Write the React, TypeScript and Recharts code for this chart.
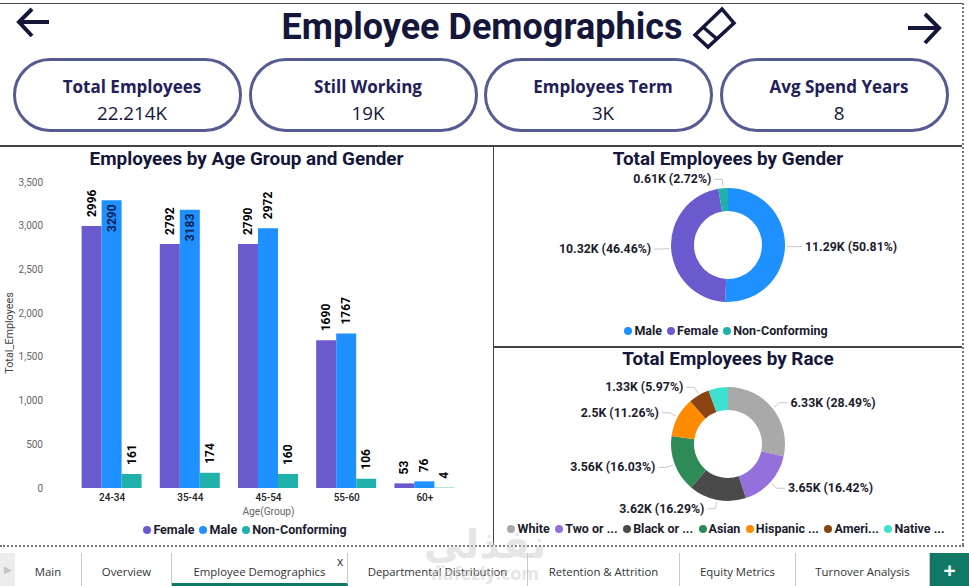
import React from "react";
import { BarChart, Bar, XAxis, YAxis, Label, LabelList, Legend, PieChart, Pie, Cell } from "recharts";

const ageGroups = ["24-34", "35-44", "45-54", "55-60", "60+"];
const femaleCounts = [2996, 2792, 2790, 1690, 53];
const maleCounts = [3290, 3183, 2972, 1767, 76];
const nonConformingCounts = [161, 174, 160, 106, 4];
const yTicks = [0, 500, 1000, 1500, 2000, 2500, 3000, 3500];

const genderNames = ["Male", "Female", "Non-Conforming"];
const genderValues = [11.29, 10.32, 0.61];
const genderPercents = ["50.81", "46.46", "2.72"];
const genderColors = ["#1E90FF", "#6A5ACD", "#20B2AA"];

const raceNames = ["White", "Two or ...", "Black or ...", "Asian", "Hispanic ...", "Ameri...", "Native ..."];
const raceValues = [6.33, 3.65, 3.62, 3.56, 2.5, 1.33, 1.23];
const racePercents = ["28.49", "16.42", "16.29", "16.03", "11.26", "5.97", ""];
const raceColors = ["#A9A9A9", "#9370DB", "#4A4A4A", "#2E8B57", "#FF8C00", "#8B4513", "#40E0D0"];

const kpis = [
  { label: "Total Employees", value: "22.214K", left: 13 },
  { label: "Still Working", value: "19K", left: 249 },
  { label: "Employees Term", value: "3K", left: 484 },
  { label: "Avg Spend Years", value: "8", left: 720 },
];

const tabs = [
  { name: "Main", left: 15, width: 67 },
  { name: "Overview", left: 82, width: 90 },
  { name: "Employee Demographics", left: 172, width: 176 },
  { name: "Departmental Distribution", left: 348, width: 180 },
  { name: "Retention & Attrition", left: 528, width: 152 },
  { name: "Equity Metrics", left: 680, width: 116 },
  { name: "Turnover Analysis", left: 796, width: 134 },
];

const ageData = ageGroups.map((age, i) => ({
  age,
  Female: femaleCounts[i],
  Male: maleCounts[i],
  "Non-Conforming": nonConformingCounts[i],
}));
const genderData = genderNames.map((name, i) => ({ name, value: genderValues[i], pct: genderPercents[i] }));
const raceData = raceNames.map((name, i) => ({ name, value: raceValues[i], pct: racePercents[i] }));

const NAVY = "#14163A";
const DIN = "Roboto, 'Noto Sans', sans-serif";
const SEGOE = "'Open Sans', 'Noto Sans', sans-serif";
const RAD = Math.PI / 180;

// rotated value label, sits over the bar; the tallest bars keep it inside
function rotatedLabel(props: any) {
  const { x, y, width, value } = props;
  const inside = value > 3100;
  const cx = x + width / 2;
  const anchorY = inside ? y + 4 : y - 9;
  return (
    <text
      x={cx}
      y={anchorY}
      transform={`rotate(-90 ${cx} ${anchorY})`}
      textAnchor={inside ? "end" : "start"}
      dominantBaseline="central"
      fontFamily={DIN}
      fontSize={12}
      fontWeight={700}
      fill={inside ? "#0A1E50" : "#000"}
    >
      {value}
    </text>
  );
}

// donut label: radial tick, horizontal run, then "x.xxK (pp.pp%)"
function donutLabel(props: any) {
  const { cx, cy, midAngle, outerRadius, payload, value } = props;
  if (!payload.pct) return null;
  const cos = Math.cos(-midAngle * RAD);
  const sin = Math.sin(-midAngle * RAD);
  const sx = cx + (outerRadius + 2) * cos;
  const sy = cy + (outerRadius + 2) * sin;
  const ex = cx + (outerRadius + 9) * cos;
  const ey = cy + (outerRadius + 9) * sin;
  const dir = cos >= 0 ? 1 : -1;
  return (
    <g>
      <polyline points={`${sx},${sy} ${ex},${ey} ${ex + dir * 8},${ey}`} fill="none" stroke="#C8C8C8" strokeWidth={1} />
      <text
        x={ex + dir * 11}
        y={ey}
        textAnchor={dir > 0 ? "start" : "end"}
        dominantBaseline="central"
        fontFamily={DIN}
        fontSize={12.3}
        fontWeight={700}
        fill="#1C1C2E"
      >
        {`${value}K (${payload.pct}%)`}
      </text>
    </g>
  );
}

function DotLegend({ items, colors, gap = 5, dx = 0, dy = 0 }: { items: string[]; colors: string[]; gap?: number; dx?: number; dy?: number }) {
  return (
    <div style={{ display: "flex", justifyContent: "center", alignItems: "center", gap, transform: `translate(${dx}px, ${dy}px)`, fontFamily: DIN, fontWeight: 700, fontSize: 12.5, color: "#1C1C2E", whiteSpace: "nowrap" }}>
      {items.map((name, i) => (
        <span key={name} style={{ display: "flex", alignItems: "center", gap: 2 }}>
          <span style={{ width: 8, height: 8, borderRadius: 4, background: colors[i], display: "inline-block" }} />
          {name}
        </span>
      ))}
    </div>
  );
}

function Title({ text, left, top, width }: { text: string; left: number; top: number; width: number }) {
  return (
    <div style={{ position: "absolute", left, top, width, textAlign: "center", fontFamily: DIN, fontWeight: 700, fontSize: 18.9, color: NAVY, lineHeight: "22px" }}>
      {text}
    </div>
  );
}

function Donut({ data, colors, left, top, legendGap, legendDx, legendDy }: { data: any[]; colors: string[]; left: number; top: number; legendGap?: number; legendDx?: number; legendDy?: number }) {
  return (
    <div style={{ position: "absolute", left, top }}>
      <PieChart width={468} height={199} margin={{ top: 0, right: 0, bottom: 0, left: 0 }}>
        <Pie
          data={data}
          dataKey="value"
          cx={234}
          cy={99}
          innerRadius={34}
          outerRadius={57}
          startAngle={90}
          endAngle={-270}
          stroke="none"
          label={donutLabel}
          labelLine={false}
          isAnimationActive={false}
        >
          {data.map((d, i) => (
            <Cell key={d.name} fill={colors[i]} />
          ))}
        </Pie>
        <Legend
          verticalAlign="bottom"
          height={26}
          content={() => <DotLegend items={data.map((d) => d.name)} colors={colors} gap={legendGap} dx={legendDx} dy={legendDy} />}
        />
      </PieChart>
    </div>
  );
}

export default function App() {
  return (
    <div style={{ position: "absolute", left: 0, top: 0, width: 969, height: 586, background: "#fff", overflow: "hidden" }}>
      {/* frame lines */}
      <div style={{ position: "absolute", left: 0, top: 3, width: 962, height: 1, background: "#444" }} />
      <div style={{ position: "absolute", left: 962, top: 3, height: 542, borderLeft: "2px dotted #777" }} />
      <div style={{ position: "absolute", left: 0, top: 145, width: 962, height: 2, background: "#444" }} />
      <div style={{ position: "absolute", left: 492.5, top: 146, width: 1.5, height: 399, background: "#444" }} />
      <div style={{ position: "absolute", left: 493, top: 346, width: 469, height: 1.5, background: "#444" }} />
      <div style={{ position: "absolute", left: 0, top: 545, width: 964, borderTop: "2px dotted #777" }} />

      {/* header */}
      <svg width={969} height={60} style={{ position: "absolute", left: 0, top: 0 }}>
        <path d="M49 22 H20 M32 9 L19 22 L32 36" fill="none" stroke={NAVY} strokeWidth={4} />
        <path d="M908 28 H939 M925 14 L939 28 L925 43" fill="none" stroke={NAVY} strokeWidth={4} />
        <path d="M695 35 L722 9 L734 23 L708 47 Z M703 27 L717 39" fill="none" stroke={NAVY} strokeWidth={3.5} />
      </svg>
      <div style={{ position: "absolute", left: 232, top: 3, width: 500, textAlign: "center", fontFamily: DIN, fontWeight: 700, fontSize: 36, color: NAVY, lineHeight: "48px" }}>
        Employee Demographics
      </div>

      {/* kpi cards */}
      {kpis.map((k) => (
        <div key={k.label} style={{ position: "absolute", left: k.left, top: 58, width: 229, height: 74, boxSizing: "border-box", border: "3.5px solid #565C92", borderRadius: 37, paddingLeft: 9, textAlign: "center" }}>
          <div style={{ marginTop: 14, fontFamily: SEGOE, fontWeight: 700, fontSize: 17, color: "#22205A", lineHeight: "24px" }}>{k.label}</div>
          <div style={{ marginTop: 1, fontFamily: SEGOE, fontSize: 18.8, color: "#16163A", lineHeight: "26px" }}>{k.value}</div>
        </div>
      ))}

      {/* age / gender bars */}
      <Title text="Employees by Age Group and Gender" left={0} top={148} width={493} />
      <div style={{ position: "absolute", left: 0, top: 150 }}>
        <BarChart
          width={493}
          height={395}
          data={ageData}
          barCategoryGap="11%"
          barGap={0}
          margin={{ top: 32, right: 29, bottom: 0, left: 0 }}
        >
          <XAxis
            dataKey="age"
            axisLine={false}
            tickLine={false}
            height={37}
            tickMargin={0}
            tick={{ fontFamily: DIN, fontSize: 10, fontWeight: 500, fill: "#222" }}
          >
            <Label value="Age(Group)" position="insideBottom" offset={10} style={{ fontFamily: DIN, fontSize: 10.2, fill: "#666" }} />
          </XAxis>
          <YAxis
            width={73}
            domain={[0, 3500]}
            ticks={yTicks}
            axisLine={false}
            tickLine={false}
            tickSize={0}
            tickMargin={30}
            tickFormatter={(v: number) => v.toLocaleString("en-US")}
            tick={{ fontFamily: DIN, fontSize: 10, fill: "#666" }}
          >
            <Label value="Total_Employees" angle={-90} position="insideLeft" offset={9} dy={-2} style={{ fontFamily: DIN, fontSize: 10.8, fill: "#444", textAnchor: "middle" }} />
          </YAxis>
          <Bar dataKey="Female" fill={genderColors[1]} isAnimationActive={false}>
            <LabelList dataKey="Female" content={rotatedLabel} />
          </Bar>
          <Bar dataKey="Male" fill={genderColors[0]} isAnimationActive={false}>
            <LabelList dataKey="Male" content={rotatedLabel} />
          </Bar>
          <Bar dataKey="Non-Conforming" fill={genderColors[2]} isAnimationActive={false}>
            <LabelList dataKey="Non-Conforming" content={rotatedLabel} />
          </Bar>
          <Legend
            verticalAlign="bottom"
            height={20}
            content={() => <DotLegend items={["Female", "Male", "Non-Conforming"]} colors={[genderColors[1], genderColors[0], genderColors[2]]} dx={13} dy={-3} />}
          />
        </BarChart>
      </div>

      {/* donuts */}
      <Title text="Total Employees by Gender" left={494} top={148} width={468} />
      <Donut data={genderData} colors={genderColors} left={494} top={146} legendDx={-2} legendDy={4} />
      <Title text="Total Employees by Race" left={494} top={348} width={468} />
      <Donut data={raceData} colors={raceColors} left={494} top={345} legendGap={5.5} legendDx={-2} legendDy={3} />

      {/* tab bar */}
      <div style={{ position: "absolute", left: 0, top: 553, width: 15, height: 33, background: "#EDEDED", color: "#C4C4C4", fontSize: 10, lineHeight: "33px", textAlign: "center", fontFamily: SEGOE }}>▶</div>
      {tabs.map((t, i) => (
        <div
          key={t.name}
          style={{
            position: "absolute",
            left: t.left,
            top: 553,
            width: t.width,
            height: 33,
            boxSizing: "border-box",
            borderRight: "1px solid #C8C8C8",
            borderBottom: i === 2 ? "3px solid #117865" : "none",
            textAlign: "center",
            fontFamily: SEGOE,
            fontSize: 11.4,
            lineHeight: "37px",
            color: "#333",
          }}
        >
          {t.name}
        </div>
      ))}
      <div style={{ position: "absolute", left: 337, top: 553, fontFamily: SEGOE, fontSize: 12, color: "#333" }}>x</div>
      <div style={{ position: "absolute", left: 930, top: 553, width: 39, height: 33, background: "#117865", color: "#fff", textAlign: "center", fontFamily: SEGOE, fontWeight: 700, fontSize: 22, lineHeight: "33px" }}>+</div>

      {/* watermark */}
      <div style={{ position: "absolute", left: 420, top: 522, width: 130, textAlign: "center", fontFamily: "'DejaVu Sans', sans-serif", fontWeight: 700, fontSize: 40, lineHeight: "44px", color: "rgba(205,205,205,0.5)" }}>نفذلي</div>
      <div style={{ position: "absolute", left: 420, top: 563, width: 130, textAlign: "center", fontFamily: "'Open Sans', sans-serif", fontWeight: 700, fontSize: 18, lineHeight: "20px", color: "rgba(205,205,205,0.5)" }}>nafezly.com</div>
    </div>
  );
}
